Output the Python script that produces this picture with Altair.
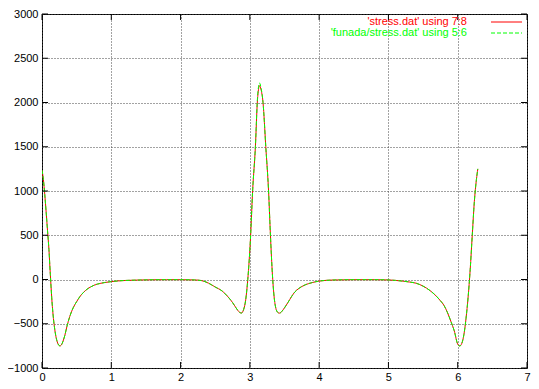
import altair as alt
import pandas as pd

# ---- data ----
x_vals = [0.00, 0.02, 0.04, 0.06, 0.08, 0.10, 0.12, 0.14, 0.16, 0.18, 0.20, 0.22, 0.24, 0.26,
          0.28, 0.30, 0.33, 0.36, 0.40, 0.45, 0.50, 0.55, 0.60, 0.65, 0.70, 0.75, 0.80, 0.90,
          1.00, 1.10, 1.20, 1.40, 1.60, 1.80, 2.00, 2.20, 2.30, 2.40, 2.50, 2.60, 2.70, 2.75,
          2.80, 2.85, 2.88, 2.91, 2.94, 2.97, 3.01, 3.04, 3.08, 3.11, 3.14, 3.16, 3.19, 3.23,
          3.27, 3.30, 3.33, 3.36, 3.40, 3.43, 3.46, 3.50, 3.55, 3.60, 3.65, 3.70, 3.80, 3.90,
          4.00, 4.20, 4.50, 4.80, 5.00, 5.10, 5.20, 5.30, 5.40, 5.50, 5.60, 5.70, 5.75, 5.80,
          5.85, 5.90, 5.95, 6.00, 6.03, 6.06, 6.09, 6.12, 6.15, 6.18, 6.21, 6.24, 6.27, 6.29]

stress_y = [1235, 1130, 960, 760, 550, 340, 60, -200, -400, -540, -640, -705, -740, -750,
            -740, -705, -630, -530, -420, -320, -250, -190, -145, -110, -85, -65, -52, -35,
            -24, -16, -11, -6, -3, -2, -2, -5, -12, -40, -85, -130, -210, -260,
            -320, -370, -378, -340, -230, 0, 480, 1000, 1500, 2030, 2190, 2150, 2000, 1500,
            1000, 450, 0, -260, -370, -380, -362, -320, -260, -195, -140, -105, -60, -35,
            -18, -6, -2, -2, -5, -10, -18, -28, -42, -75, -125, -195, -240, -290,
            -370, -470, -580, -730, -750, -720, -620, -440, -200, 110, 500, 880, 1130, 1250]

funada_y = [1235, 1130, 960, 760, 550, 340, 60, -200, -400, -540, -640, -705, -740, -752,
            -740, -705, -630, -530, -420, -320, -250, -190, -145, -110, -85, -65, -52, -35,
            -24, -16, -11, -6, -3, -2, -2, -5, -12, -40, -85, -130, -210, -260,
            -320, -370, -380, -340, -230, 0, 480, 1000, 1500, 2050, 2220, 2170, 2000, 1500,
            1000, 450, 0, -260, -370, -382, -362, -320, -260, -195, -140, -105, -60, -35,
            -18, -6, -2, -2, -5, -10, -18, -28, -42, -75, -125, -195, -240, -290,
            -370, -470, -580, -730, -752, -720, -620, -440, -200, 110, 500, 880, 1130, 1250]

x_ticks = [0, 1, 2, 3, 4, 5, 6, 7]
y_ticks = [-1000, -500, 0, 500, 1000, 1500, 2000, 2500, 3000]

legend_labels = ["'stress.dat' using 7:8", "'funada/stress.dat' using 5:6"]

RED = "#ff0000"
GREEN = "#00ff00"
W, H = 485, 354
FONT = "Liberation Sans"

red_df = pd.DataFrame({"x": x_vals, "y": stress_y})
green_df = pd.DataFrame({"x": x_vals, "y": funada_y})
xt_df = pd.DataFrame({"t": x_ticks})
yt_df = pd.DataFrame({"t": y_ticks})

xscale = alt.Scale(domain=[0, 7], nice=False, zero=False)
yscale = alt.Scale(domain=[-1000, 3000], nice=False, zero=False)

xaxis = alt.Axis(values=x_ticks, title=None, grid=True, gridDash=[1, 2], gridColor="#444",
                 gridOpacity=1, ticks=False, domain=False, labelPadding=3, format="d",
                 labelFont=FONT, labelFontSize=11, labelColor="black", labelFlush=False,
                 labelOverlap=False)
yaxis = alt.Axis(values=y_ticks, title=None, grid=True, gridDash=[1, 2], gridColor="#444",
                 gridOpacity=1, ticks=False, domain=False, labelPadding=4, format="d",
                 labelFont=FONT, labelFontSize=11, labelColor="black", labelFlush=False,
                 labelOverlap=False)

base_red = alt.Chart(red_df).mark_line(color=RED, strokeWidth=1, interpolate="monotone", clip=True).encode(
    x=alt.X("x:Q", scale=xscale, axis=xaxis),
    y=alt.Y("y:Q", scale=yscale, axis=yaxis),
)
green_line = alt.Chart(green_df).mark_line(color=GREEN, strokeWidth=1, strokeDash=[4, 2],
                                           interpolate="monotone", clip=True).encode(
    x=alt.X("x:Q", scale=xscale),
    y=alt.Y("y:Q", scale=yscale),
)

tick_len = 6
xt_top = alt.Chart(xt_df).mark_rule(color="black", strokeWidth=1).encode(
    x=alt.X("t:Q", scale=xscale), y=alt.value(0), y2=alt.value(tick_len))
xt_bot = alt.Chart(xt_df).mark_rule(color="black", strokeWidth=1).encode(
    x=alt.X("t:Q", scale=xscale), y=alt.value(H - tick_len), y2=alt.value(H))
yt_left = alt.Chart(yt_df).mark_rule(color="black", strokeWidth=1).encode(
    y=alt.Y("t:Q", scale=yscale), x=alt.value(0), x2=alt.value(tick_len))
yt_right = alt.Chart(yt_df).mark_rule(color="black", strokeWidth=1).encode(
    y=alt.Y("t:Q", scale=yscale), x=alt.value(W - tick_len), x2=alt.value(W))

leg1 = pd.DataFrame({"label": [legend_labels[0]]})
leg2 = pd.DataFrame({"label": [legend_labels[1]]})
leg_text1 = alt.Chart(leg1).mark_text(align="right", baseline="middle", font=FONT, fontSize=11,
                                      color=RED).encode(
    text="label:N", x=alt.value(425), y=alt.value(8))
leg_text2 = alt.Chart(leg2).mark_text(align="right", baseline="middle", font=FONT, fontSize=11,
                                      color=GREEN).encode(
    text="label:N", x=alt.value(425), y=alt.value(19))
leg_line1 = alt.Chart(leg1).mark_rule(color=RED, strokeWidth=1).encode(
    x=alt.value(449), x2=alt.value(480), y=alt.value(8))
leg_line2 = alt.Chart(leg2).mark_rule(color=GREEN, strokeWidth=1, strokeDash=[4, 2]).encode(
    x=alt.value(449), x2=alt.value(480), y=alt.value(19))

chart = alt.layer(
    base_red, green_line, xt_top, xt_bot, yt_left, yt_right,
    leg_text1, leg_text2, leg_line1, leg_line2,
).properties(
    width=W, height=H,
    autosize=alt.AutoSizeParams(type="none"),
    padding={"left": 34, "top": 6, "right": 4, "bottom": 13},
    background="white",
).configure_view(stroke="black", strokeWidth=1)

chart.save("out.html", embed_options={"renderer": "svg", "actions": False})
